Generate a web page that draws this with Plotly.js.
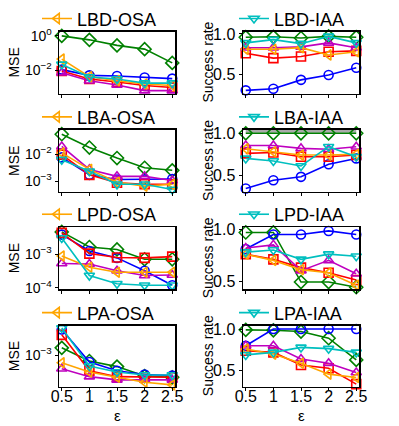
<!DOCTYPE html>
<html>
<head>
<meta charset="utf-8">
<script src="https://cdn.plot.ly/plotly-3.0.1.min.js"></script>
<style>body{margin:0;background:#fff}</style>
</head>
<body>
<div id="chart" style="width:399px;height:426px"></div>
<script>
//Data
let eps = [0.5, 1, 1.5, 2, 2.5];
let epsTickText = ['0.5', '1', '1.5', '2', '2.5'];

// series order in every panel: green, blue, red, magenta, orange, cyan
let lbdOsa = [
    [1.0, 0.59, 0.28, 0.17, 0.027],
    [0.011, 0.0051, 0.0047, 0.0038, 0.0033],
    [0.0091, 0.0031, 0.0021, 0.0013, 0.001],
    [0.0073, 0.0025, 0.0014, 0.00066, 0.00066],
    [0.045, 0.0043, 0.0025, 0.0016, 0.0013],
    [0.022, 0.0041, 0.0031, 0.0018, 0.0018]
];
let lbdIaa = [
    [0.96, 0.965, 0.95, 0.97, 0.96],
    [0.30, 0.32, 0.43, 0.49, 0.58],
    [0.76, 0.70, 0.72, 0.78, 0.79],
    [0.83, 0.83, 0.84, 0.89, 0.83],
    [0.81, 0.81, 0.83, 0.74, 0.78],
    [0.89, 0.93, 0.88, 0.97, 0.89]
];
let lbaOsa = [
    [0.054, 0.0174, 0.0071, 0.0031, 0.0025],
    [0.0075, 0.0017, 0.00115, 0.00115, 0.0012],
    [0.0095, 0.0017, 0.00087, 0.00076, 0.00076],
    [0.019, 0.0027, 0.0015, 0.0015, 0.00105],
    [0.011, 0.0027, 0.0009, 0.00065, 0.00076],
    [0.0062, 0.0023, 0.00076, 0.00076, 0.00049]
];
let lbaIaa = [
    [1, 1, 1, 1, 1],
    [0.34, 0.44, 0.48, 0.63, 0.70],
    [0.76, 0.77, 0.72, 0.72, 0.74],
    [0.854, 0.854, 0.82, 0.81, 0.84],
    [0.815, 0.78, 0.74, 0.74, 0.75],
    [0.70, 0.67, 0.61, 0.84, 0.72]
];
let lbaIaaGray = [1.025, 1.025, 1.025, 1.025, 1.025];
let lpdOsa = [
    [0.0047, 0.00165, 0.0014, 0.00071, 0.00071],
    [0.0039, 0.00126, 0.00078, 0.00032, 0.000118],
    [0.0044, 0.00105, 0.0008, 0.00078, 0.00085],
    [0.00053, 0.00051, 0.00032, 0.00023, 0.00024],
    [0.00089, 0.00041, 0.00029, 0.00029, 0.00029],
    [0.0031, 0.00023, 0.000131, 0.000118, 0.000118]
];
let lpdIaa = [
    [0.97, 0.97, 0.49, 0.49, 0.44],
    [0.81, 0.95, 0.95, 0.985, 0.95],
    [0.76, 0.71, 0.63, 0.58, 0.51],
    [0.82, 0.85, 0.60, 0.70, 0.57],
    [0.76, 0.70, 0.61, 0.58, 0.46],
    [0.78, 0.80, 0.71, 0.76, 0.74]
];
let lpaOsa = [
    [0.00155, 0.00072, 0.00052, 0.0003, 0.00028],
    [0.0045, 0.00068, 0.00041, 0.00033, 0.00031],
    [0.0033, 0.00041, 0.00029, 0.00028, 0.00028],
    [0.00046, 0.00029, 0.00024, 0.00024, 0.00024],
    [0.00065, 0.00038, 0.00028, 0.00021, 0.00018],
    [0.0049, 0.00054, 0.00038, 0.00032, 0.00032]
];
let lpaIaa = [
    [0.99, 0.985, 0.97, 0.89, 0.63],
    [0.80, 1.0, 1.0, 1.0, 1.0],
    [0.74, 0.72, 0.57, 0.53, 0.34],
    [0.80, 0.80, 0.64, 0.59, 0.48],
    [0.76, 0.70, 0.59, 0.46, 0.42],
    [0.69, 0.72, 0.78, 0.765, 0.72]
];

let lbdOsaTicks = [1, 0.01];
let lbdOsaTickText = ['10<sup>0</sup>', '10<sup>\u22122</sup>'];
let lbaOsaTicks = [0.01, 0.001];
let lbaOsaTickText = ['10<sup>\u22122</sup>', '10<sup>\u22123</sup>'];
let lpdOsaTicks = [0.001, 0.0001];
let lpdOsaTickText = ['10<sup>\u22123</sup>', '10<sup>\u22124</sup>'];
let lpaOsaTicks = [0.001];
let lpaOsaTickText = ['10<sup>\u22123</sup>'];
let rateTicks = [0.5, 1.0];
let rateTickText = ['0.5', '1.0'];

//Styles
let styles = [
    {color: '#008000', symbol: 'diamond-open', size: 10},
    {color: '#0000ff', symbol: 'circle-open', size: 9},
    {color: '#ff0000', symbol: 'square-open', size: 9},
    {color: '#bf00bf', symbol: 'triangle-up-open', size: 9},
    {color: '#ffa500', symbol: 'triangle-left-open', size: 9},
    {color: '#00bfbf', symbol: 'triangle-down-open', size: 9}
];
let drawOrder = [0, 1, 2, 3, 4, 5];

let font = 'Liberation Sans, Arial, sans-serif';
let W = 399, H = 426;
let colX = [[59, 175], [243, 359]];
let rowY = [[25, 88], [125, 188], [224, 287], [324, 386]];
let titleY = [12, 112, 211, 311];
let yTitleX = [14, 208];

let panels = [
    {name: 'LBD-OSA', data: lbdOsa, log: true, range: [-3.35, 0.25], tv: lbdOsaTicks, tt: lbdOsaTickText},
    {name: 'LBD-IAA', data: lbdIaa, log: false, range: [0.26, 1.03], tv: rateTicks, tt: rateTickText},
    {name: 'LBA-OSA', data: lbaOsa, log: true, range: [-3.4, -1.11], tv: lbaOsaTicks, tt: lbaOsaTickText},
    {name: 'LBA-IAA', data: lbaIaa, log: false, range: [0.3, 1.04], tv: rateTicks, tt: rateTickText},
    {name: 'LPD-OSA', data: lpdOsa, log: true, range: [-4.05, -2.19], tv: lpdOsaTicks, tt: lpdOsaTickText},
    {name: 'LPD-IAA', data: lpdIaa, log: false, range: [0.42, 1.02], tv: rateTicks, tt: rateTickText},
    {name: 'LPA-OSA', data: lpaOsa, log: true, range: [-3.79, -2.25], tv: lpaOsaTicks, tt: lpaOsaTickText},
    {name: 'LPA-IAA', data: lpaIaa, log: false, range: [0.31, 1.04], tv: rateTicks, tt: rateTickText}
];

let traces = [];
let annotations = [];
let layout = {
    width: W, height: H,
    margin: {l: 0, r: 0, t: 0, b: 0},
    paper_bgcolor: '#fff', plot_bgcolor: '#fff',
    font: {family: font, color: '#000'},
    showlegend: true
};

panels.forEach(function(p, k) {
    let n = k + 1;
    let col = k % 2, row = Math.floor(k / 2);
    let xa = n === 1 ? 'x' : 'x' + n;
    let ya = n === 1 ? 'y' : 'y' + n;
    let lg = n === 1 ? 'legend' : 'legend' + n;
    let legendIdx = col === 0 ? 4 : 5;

    if (p.name === 'LBA-IAA') {
        traces.push({
            x: eps, y: lbaIaaGray, xaxis: xa, yaxis: ya, mode: 'lines',
            line: {color: '#aaaaaa', width: 3}, showlegend: false
        });
    }

    drawOrder.forEach(function(s) {
        let st = styles[s];
        traces.push({
            x: eps, y: p.data[s], xaxis: xa, yaxis: ya,
            type: 'scatter', mode: 'lines+markers',
            name: p.name, legend: lg,
            showlegend: s === legendIdx,
            line: {color: st.color, width: 1.6},
            marker: {symbol: st.symbol, size: st.size, color: st.color, line: {color: st.color, width: 1.6}},
            cliponaxis: false
        });
    });

    let bottom = row === 3;
    layout['xaxis' + (n === 1 ? '' : n)] = {
        domain: [colX[col][0] / W, colX[col][1] / W],
        anchor: ya, range: [0.45, 2.55],
        tickmode: 'array', tickvals: eps, ticktext: epsTickText,
        showticklabels: bottom, ticks: 'outside', ticklen: 3, tickcolor: '#000',
        ticklabelstandoff: -8,
        showline: true, mirror: true, linecolor: '#000', linewidth: 1.5,
        showgrid: false, zeroline: false,
        tickfont: {size: 16, family: font}
    };
    layout['yaxis' + (n === 1 ? '' : n)] = {
        domain: [1 - rowY[row][1] / H, 1 - rowY[row][0] / H],
        anchor: xa, type: p.log ? 'log' : 'linear', range: p.range,
        tickmode: 'array', tickvals: p.tv, ticktext: p.tt,
        ticks: 'outside', ticklen: 3, tickcolor: '#000',
        showline: true, mirror: true, linecolor: '#000', linewidth: 1.5,
        showgrid: false, zeroline: false,
        tickfont: {size: p.log ? 14 : 16, family: font}
    };
    layout[lg] = {
        x: (col === 0 ? 37 : 234) / W, y: 1 - titleY[row] / H,
        xanchor: 'left', yanchor: 'middle',
        orientation: 'h', bgcolor: 'rgba(0,0,0,0)', borderwidth: 0,
        font: {size: 18, family: font, color: '#000'}
    };

    // axis titles
    annotations.push({
        text: col === 0 ? 'MSE' : 'Success rate', textangle: -90,
        xref: 'paper', yref: 'paper', showarrow: false,
        x: yTitleX[col] / W, y: 1 - (rowY[row][0] + rowY[row][1]) / 2 / H,
        xanchor: 'center', yanchor: 'middle',
        font: {size: 14, family: font}
    });
    if (bottom) {
        annotations.push({
            text: '\u03b5', xref: 'paper', yref: 'paper', showarrow: false,
            x: (colX[col][0] + colX[col][1]) / 2 / W, y: 1 - 415 / H,
            xanchor: 'center', yanchor: 'middle',
            font: {size: 15, family: font}
        });
    }
});
layout.annotations = annotations;

Plotly.newPlot('chart', traces, layout, {displayModeBar: false, staticPlot: true});
</script>
</body>
</html>
